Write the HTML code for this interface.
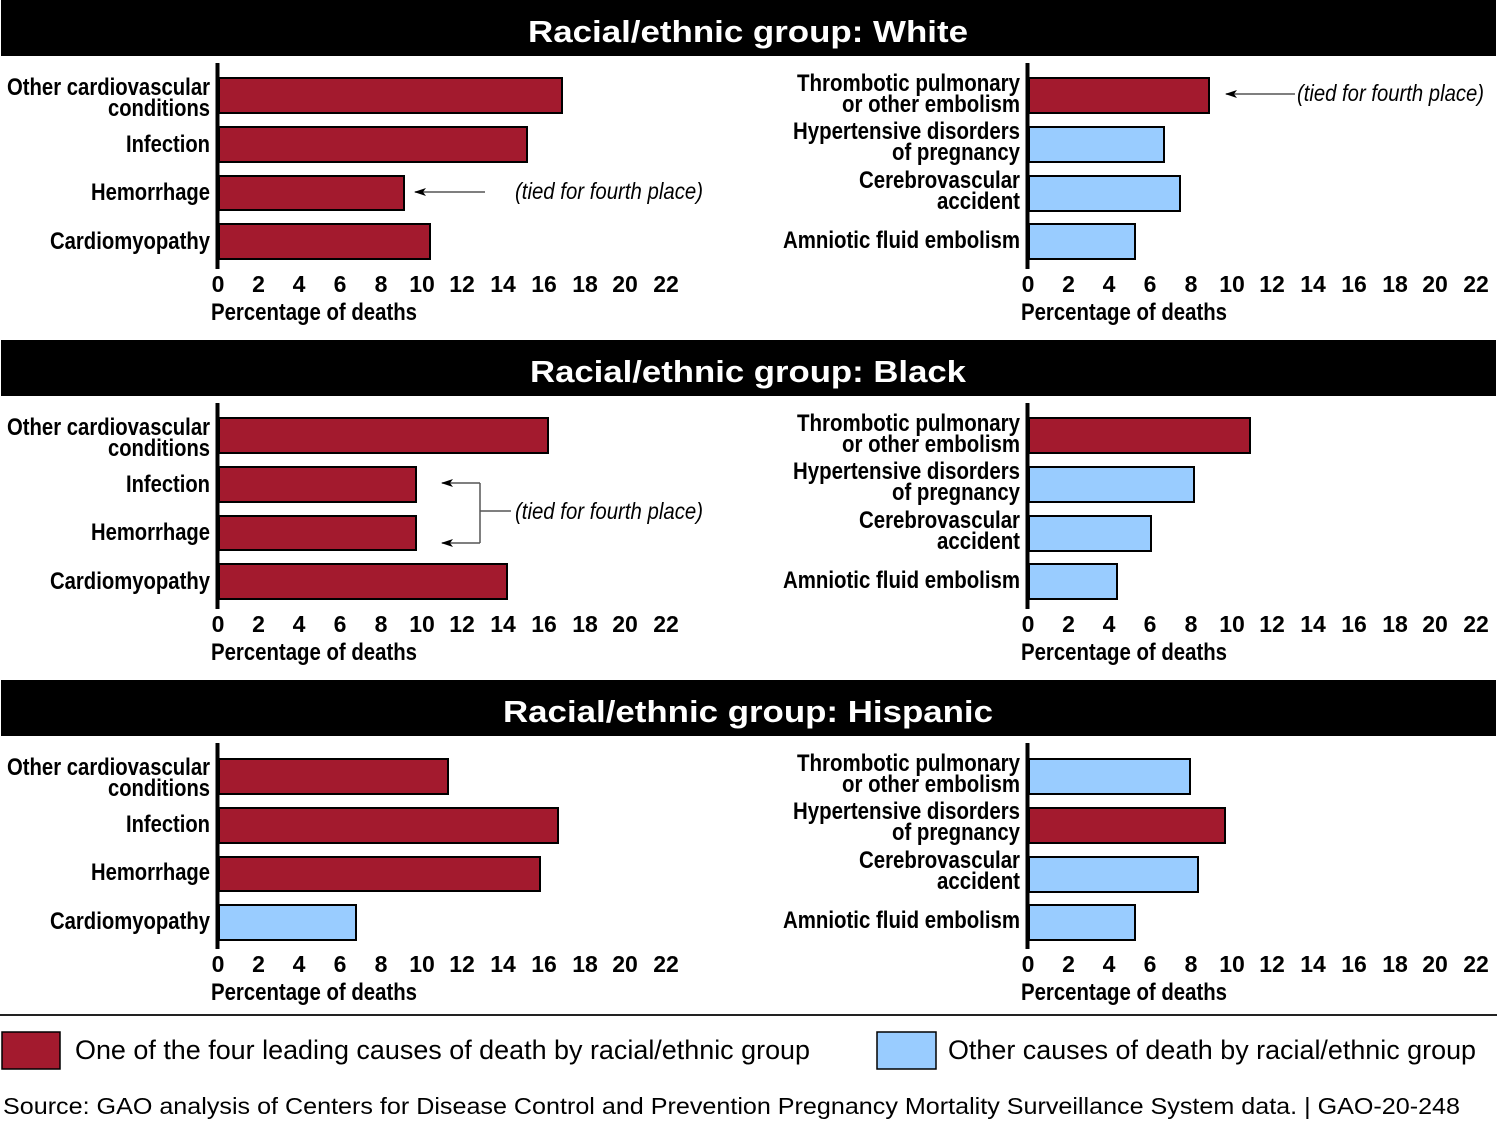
<!DOCTYPE html>
<html><head><meta charset="utf-8"><style>
html,body{margin:0;padding:0;background:#fff;}
svg{display:block;}
.lb{font-family:"Liberation Sans Narrow","Liberation Sans",sans-serif;font-weight:bold;font-size:24px;fill:#000;}
.tk{font-family:"Liberation Sans Narrow","Liberation Sans",sans-serif;font-weight:bold;font-size:23px;fill:#000;text-anchor:middle;}
.tt{font-family:"Liberation Sans",sans-serif;font-weight:bold;font-size:31px;fill:#fff;text-anchor:middle;}
.it{font-family:"Liberation Sans Narrow","Liberation Sans",sans-serif;font-style:italic;font-size:23px;fill:#000;}
.lg{font-family:"Liberation Sans Narrow","Liberation Sans",sans-serif;font-size:27px;fill:#000;}
.r{fill:#a31a2e;stroke:#000;stroke-width:2;}
.b{fill:#99ccff;stroke:#000;stroke-width:2;}
</style></head><body>
<svg width="1497" height="1122" viewBox="0 0 1497 1122" xmlns="http://www.w3.org/2000/svg">
<defs>
<g id="frame">
<rect x="1" y="0" width="1495" height="56" fill="#000"/>
<rect x="215.5" y="63" width="4" height="206" fill="#000"/>
<rect x="1025.5" y="63" width="4" height="206" fill="#000"/>
<text class="lb" x="210" y="95" text-anchor="end" textLength="203" lengthAdjust="spacingAndGlyphs">Other cardiovascular</text>
<text class="lb" x="210" y="116" text-anchor="end" textLength="102" lengthAdjust="spacingAndGlyphs">conditions</text>
<text class="lb" x="210" y="152" text-anchor="end" textLength="84" lengthAdjust="spacingAndGlyphs">Infection</text>
<text class="lb" x="210" y="200" text-anchor="end" textLength="119" lengthAdjust="spacingAndGlyphs">Hemorrhage</text>
<text class="lb" x="210" y="249" text-anchor="end" textLength="160" lengthAdjust="spacingAndGlyphs">Cardiomyopathy</text>
<text class="lb" x="1020" y="91" text-anchor="end" textLength="223" lengthAdjust="spacingAndGlyphs">Thrombotic pulmonary</text>
<text class="lb" x="1020" y="112" text-anchor="end" textLength="178" lengthAdjust="spacingAndGlyphs">or other embolism</text>
<text class="lb" x="1020" y="139" text-anchor="end" textLength="227" lengthAdjust="spacingAndGlyphs">Hypertensive disorders</text>
<text class="lb" x="1020" y="160" text-anchor="end" textLength="128" lengthAdjust="spacingAndGlyphs">of pregnancy</text>
<text class="lb" x="1020" y="188" text-anchor="end" textLength="161" lengthAdjust="spacingAndGlyphs">Cerebrovascular</text>
<text class="lb" x="1020" y="209" text-anchor="end" textLength="83" lengthAdjust="spacingAndGlyphs">accident</text>
<text class="lb" x="1020" y="248" text-anchor="end" textLength="237" lengthAdjust="spacingAndGlyphs">Amniotic fluid embolism</text>
<g class="tk">
<text x="218" y="292">0</text><text x="258.5" y="292">2</text><text x="299" y="292">4</text><text x="340" y="292">6</text><text x="381" y="292">8</text><text x="422" y="292">10</text><text x="462" y="292">12</text><text x="503" y="292">14</text><text x="544" y="292">16</text><text x="585" y="292">18</text><text x="625" y="292">20</text><text x="666" y="292">22</text>
<text x="1028" y="292">0</text><text x="1068.5" y="292">2</text><text x="1109" y="292">4</text><text x="1150" y="292">6</text><text x="1191" y="292">8</text><text x="1232" y="292">10</text><text x="1272" y="292">12</text><text x="1313" y="292">14</text><text x="1354" y="292">16</text><text x="1395" y="292">18</text><text x="1435" y="292">20</text><text x="1476" y="292">22</text>
</g>
<text class="lb" x="211" y="320" textLength="206" lengthAdjust="spacingAndGlyphs">Percentage of deaths</text>
<text class="lb" x="1021" y="320" textLength="206" lengthAdjust="spacingAndGlyphs">Percentage of deaths</text>
</g>
<marker id="ah" markerWidth="12" markerHeight="8" refX="11" refY="4" orient="auto" markerUnits="userSpaceOnUse"><path d="M12,4 L0,0 L3,4 L0,8 Z" fill="#000"/></marker>
</defs>

<!-- White -->
<use href="#frame" x="0" y="0"/>
<text class="tt" x="748" y="42" textLength="440" lengthAdjust="spacingAndGlyphs">Racial/ethnic group: White</text>
<rect class="r" x="219" y="78" width="343" height="35"/>
<rect class="r" x="219" y="127" width="308" height="35"/>
<rect class="r" x="219" y="176" width="185" height="34"/>
<rect class="r" x="219" y="224" width="211" height="35"/>
<rect class="r" x="1029" y="78" width="180" height="35"/>
<rect class="b" x="1029" y="127" width="135" height="35"/>
<rect class="b" x="1029" y="176" width="151" height="35"/>
<rect class="b" x="1029" y="224" width="106" height="35"/>
<line x1="485" y1="192" x2="415" y2="192" stroke="#555" stroke-width="1.5" marker-end="url(#ah)"/>
<text class="it" x="515" y="199" textLength="188" lengthAdjust="spacingAndGlyphs">(tied for fourth place)</text>
<line x1="1295" y1="94" x2="1226" y2="94" stroke="#555" stroke-width="1.5" marker-end="url(#ah)"/>
<text class="it" x="1297" y="101" textLength="187" lengthAdjust="spacingAndGlyphs">(tied for fourth place)</text>

<!-- Black -->
<use href="#frame" x="0" y="340"/>
<text class="tt" x="748" y="382" textLength="436" lengthAdjust="spacingAndGlyphs">Racial/ethnic group: Black</text>
<rect class="r" x="219" y="418" width="329" height="35"/>
<rect class="r" x="219" y="467" width="197" height="35"/>
<rect class="r" x="219" y="516" width="197" height="34"/>
<rect class="r" x="219" y="564" width="288" height="35"/>
<rect class="r" x="1029" y="418" width="221" height="35"/>
<rect class="b" x="1029" y="467" width="165" height="35"/>
<rect class="b" x="1029" y="516" width="122" height="35"/>
<rect class="b" x="1029" y="564" width="88" height="35"/>
<polyline points="480,483 480,543" fill="none" stroke="#555" stroke-width="1.5"/>
<line x1="480" y1="483" x2="442" y2="483" stroke="#555" stroke-width="1.5" marker-end="url(#ah)"/>
<line x1="480" y1="543" x2="442" y2="543" stroke="#555" stroke-width="1.5" marker-end="url(#ah)"/>
<line x1="480" y1="511" x2="511" y2="511" stroke="#555" stroke-width="1.5"/>
<text class="it" x="515" y="519" textLength="188" lengthAdjust="spacingAndGlyphs">(tied for fourth place)</text>

<!-- Hispanic -->
<use href="#frame" x="0" y="680"/>
<text class="tt" x="748" y="722" textLength="490" lengthAdjust="spacingAndGlyphs">Racial/ethnic group: Hispanic</text>
<rect class="r" x="219" y="759" width="229" height="35"/>
<rect class="r" x="219" y="808" width="339" height="35"/>
<rect class="r" x="219" y="857" width="321" height="34"/>
<rect class="b" x="219" y="905" width="137" height="35"/>
<rect class="b" x="1029" y="759" width="161" height="35"/>
<rect class="r" x="1029" y="808" width="196" height="35"/>
<rect class="b" x="1029" y="857" width="169" height="35"/>
<rect class="b" x="1029" y="905" width="106" height="35"/>

<!-- Legend -->
<rect x="0" y="1014" width="1497" height="2" fill="#222"/>
<rect x="2" y="1032" width="58" height="37" fill="#a31a2e" stroke="#000" stroke-width="1.5"/>
<text class="lg" x="75" y="1059" textLength="735" lengthAdjust="spacingAndGlyphs">One of the four leading causes of death by racial/ethnic group</text>
<rect x="877" y="1032" width="59" height="37" fill="#99ccff" stroke="#000" stroke-width="1.5"/>
<text class="lg" x="948" y="1059" textLength="528" lengthAdjust="spacingAndGlyphs">Other causes of death by racial/ethnic group</text>
<text class="lg" style="font-size:23px" x="3" y="1114" textLength="1457" lengthAdjust="spacingAndGlyphs">Source: GAO analysis of Centers for Disease Control and Prevention Pregnancy Mortality Surveillance System data.  |  GAO-20-248</text>
</svg>
</body></html>
